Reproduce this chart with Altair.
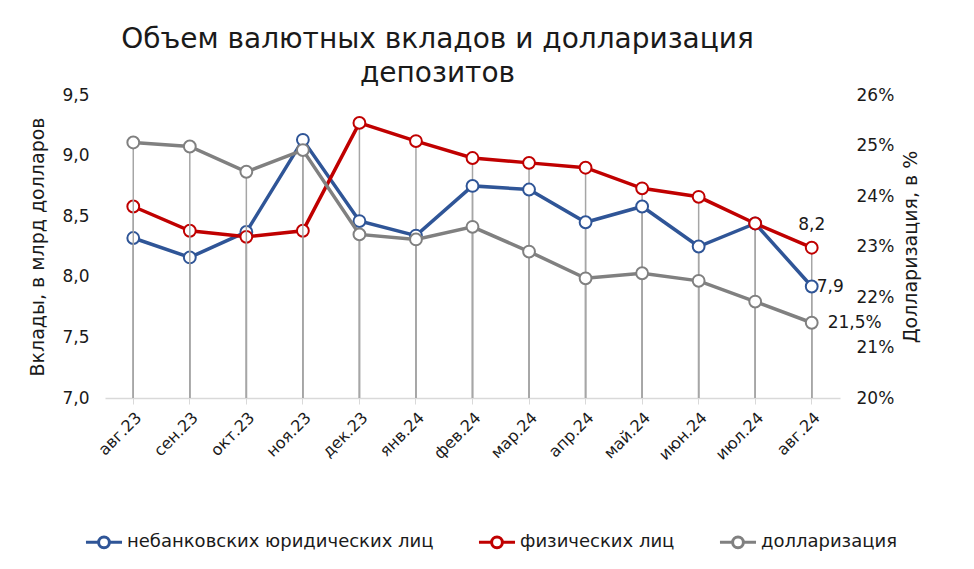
import altair as alt
import pandas as pd

months = ["авг.23", "сен.23", "окт.23", "ноя.23", "дек.23", "янв.24", "фев.24",
          "мар.24", "апр.24", "май.24", "июн.24", "июл.24", "авг.24"]
legal = [8.32, 8.16, 8.37, 9.13, 8.46, 8.34, 8.75, 8.72, 8.45, 8.58, 8.25, 8.44, 7.92]
individ = [8.58, 8.38, 8.33, 8.38, 9.27, 9.12, 8.98, 8.94, 8.90, 8.73, 8.66, 8.44, 8.24]
dollar = [25.06, 24.98, 24.48, 24.91, 23.24, 23.14, 23.39, 22.90, 22.37, 22.47, 22.32, 21.91, 21.49]

series_names = ["небанковских юридических лиц", "физических лиц", "долларизация"]
series_colors = ["#2F5597", "#C00000", "#808080"]

FONT = "DejaVu Sans"
TXT = "#1a1a1a"

left_df = pd.DataFrame({
    "month": months * 2,
    "value": legal + individ,
    "series": [series_names[0]] * len(months) + [series_names[1]] * len(months),
})
right_df = pd.DataFrame({
    "month": months,
    "value": dollar,
    "series": [series_names[2]] * len(months),
})

xenc = alt.X("month:O", sort=months, title=None,
             axis=alt.Axis(labelAngle=-45, labelFontSize=16, labelColor=TXT, labelFont=FONT,
                           domainColor="#D9D9D9", domainWidth=1.5, tickColor="#D9D9D9",
                           tickSize=6, labelPadding=5, grid=False))

color_scale = alt.Scale(domain=series_names, range=series_colors)

legend = alt.Legend(
    orient="none", direction="horizontal", legendX=-21, legendY=427,
    title=None, labelFontSize=18, labelFont=FONT, labelColor=TXT, labelLimit=0,
    symbolType="M-1,0H-0.3M0.3,0H1M-0.3,0A0.3,0.3,0,1,0,0.3,0A0.3,0.3,0,1,0,-0.3,0",
    symbolSize=1300, symbolStrokeWidth=3, symbolFillColor="white",
    columnPadding=38, labelOffset=3,
)

yl_scale = alt.Scale(domain=[7, 9.5], nice=False, zero=False)
yl_axis = alt.Axis(values=[7, 7.5, 8, 8.5, 9, 9.5], grid=False, domain=False, ticks=False,
                   labelExpr="replace(format(datum.value, '.1f'), '.', ',')",
                   labelFontSize=17, labelFont=FONT, labelColor=TXT, labelPadding=16,
                   title="Вклады, в млрд долларов", titleFontSize=19, titleFont=FONT,
                   titleFontWeight="normal", titleColor=TXT, titlePadding=14)

yr_scale = alt.Scale(domain=[20, 26], nice=False, zero=False)
yr_axis = alt.Axis(values=[20, 21, 22, 23, 24, 25, 26], grid=False, domain=False, ticks=False,
                   orient="right",
                   labelExpr="format(datum.value, '.0f') + '%'",
                   labelFontSize=17, labelFont=FONT, labelColor=TXT, labelPadding=16,
                   title="Долларизация, в %", titleFontSize=19, titleFont=FONT, titleAngle=270,
                   titleFontWeight="normal", titleColor=TXT, titlePadding=27)

left_base = alt.Chart(left_df)
right_base = alt.Chart(right_df)

left_rules = left_base.mark_rule(color="#A6A6A6", strokeWidth=1.5).encode(
    x=xenc, y=alt.Y("value:Q", scale=yl_scale, axis=yl_axis), y2=alt.datum(7))
left_lines = left_base.mark_line(strokeWidth=3.5).encode(
    x=xenc, y=alt.Y("value:Q", scale=yl_scale),
    color=alt.Color("series:N", scale=color_scale, legend=legend),
    detail="series:N")
left_points = left_base.mark_point(filled=False, fill="white", fillOpacity=1, size=140,
                                   strokeWidth=2, opacity=1).encode(
    x=xenc, y=alt.Y("value:Q", scale=yl_scale),
    stroke=alt.Stroke("series:N", scale=color_scale, legend=None))

label_common = dict(fontSize=17, font=FONT, color=TXT)
red_label = left_base.transform_filter(
    (alt.datum.month == months[-1]) & (alt.datum.series == series_names[1])
).transform_calculate(
    lbl="replace(format(datum.value, '.1f'), '.', ',')"
).mark_text(align="center", baseline="bottom", dy=-14, **label_common).encode(
    x=xenc, y=alt.Y("value:Q", scale=yl_scale), text="lbl:N")
blue_label = left_base.transform_filter(
    (alt.datum.month == months[-1]) & (alt.datum.series == series_names[0])
).transform_calculate(
    lbl="replace(format(datum.value, '.1f'), '.', ',')"
).mark_text(align="left", baseline="middle", dx=5, dy=1, **label_common).encode(
    x=xenc, y=alt.Y("value:Q", scale=yl_scale), text="lbl:N")

left_layer = alt.layer(left_rules, left_lines, left_points, red_label, blue_label)

right_rules = right_base.mark_rule(color="#A6A6A6", strokeWidth=1.5).encode(
    x=xenc, y=alt.Y("value:Q", scale=yr_scale, axis=yr_axis), y2=alt.datum(20))
right_lines = right_base.mark_line(strokeWidth=3.5).encode(
    x=xenc, y=alt.Y("value:Q", scale=yr_scale),
    color=alt.Color("series:N", scale=color_scale, legend=legend))
right_points = right_base.mark_point(filled=False, fill="white", fillOpacity=1, size=140,
                                     strokeWidth=2, opacity=1).encode(
    x=xenc, y=alt.Y("value:Q", scale=yr_scale),
    stroke=alt.Stroke("series:N", scale=color_scale, legend=None))
gray_label = right_base.transform_filter(
    alt.datum.month == months[-1]
).transform_calculate(
    lbl="replace(format(datum.value, '.1f'), '.', ',') + '%'"
).mark_text(align="left", baseline="middle", dx=16, **label_common).encode(
    x=xenc, y=alt.Y("value:Q", scale=yr_scale), text="lbl:N")

right_layer = alt.layer(right_rules, right_lines, right_points, gray_label)

chart = alt.layer(left_layer, right_layer).resolve_scale(
    y="independent"
).properties(
    width=735, height=303,
    background="white",
    autosize=alt.AutoSizeParams(type="none"),
    padding={"left": 105, "top": 95, "right": 134, "bottom": 171},
    title=alt.TitleParams(
        text=["Объем валютных вкладов и долларизация", "депозитов"],
        fontSize=28, font=FONT, fontWeight="normal", color=TXT,
        anchor="middle", dx=-35, offset=-2, lineHeight=34,
    ),
).configure_view(
    stroke="transparent", strokeWidth=0
).configure_axis(grid=False)

chart.save("out.html", embed_options={"renderer": "svg", "actions": False})
